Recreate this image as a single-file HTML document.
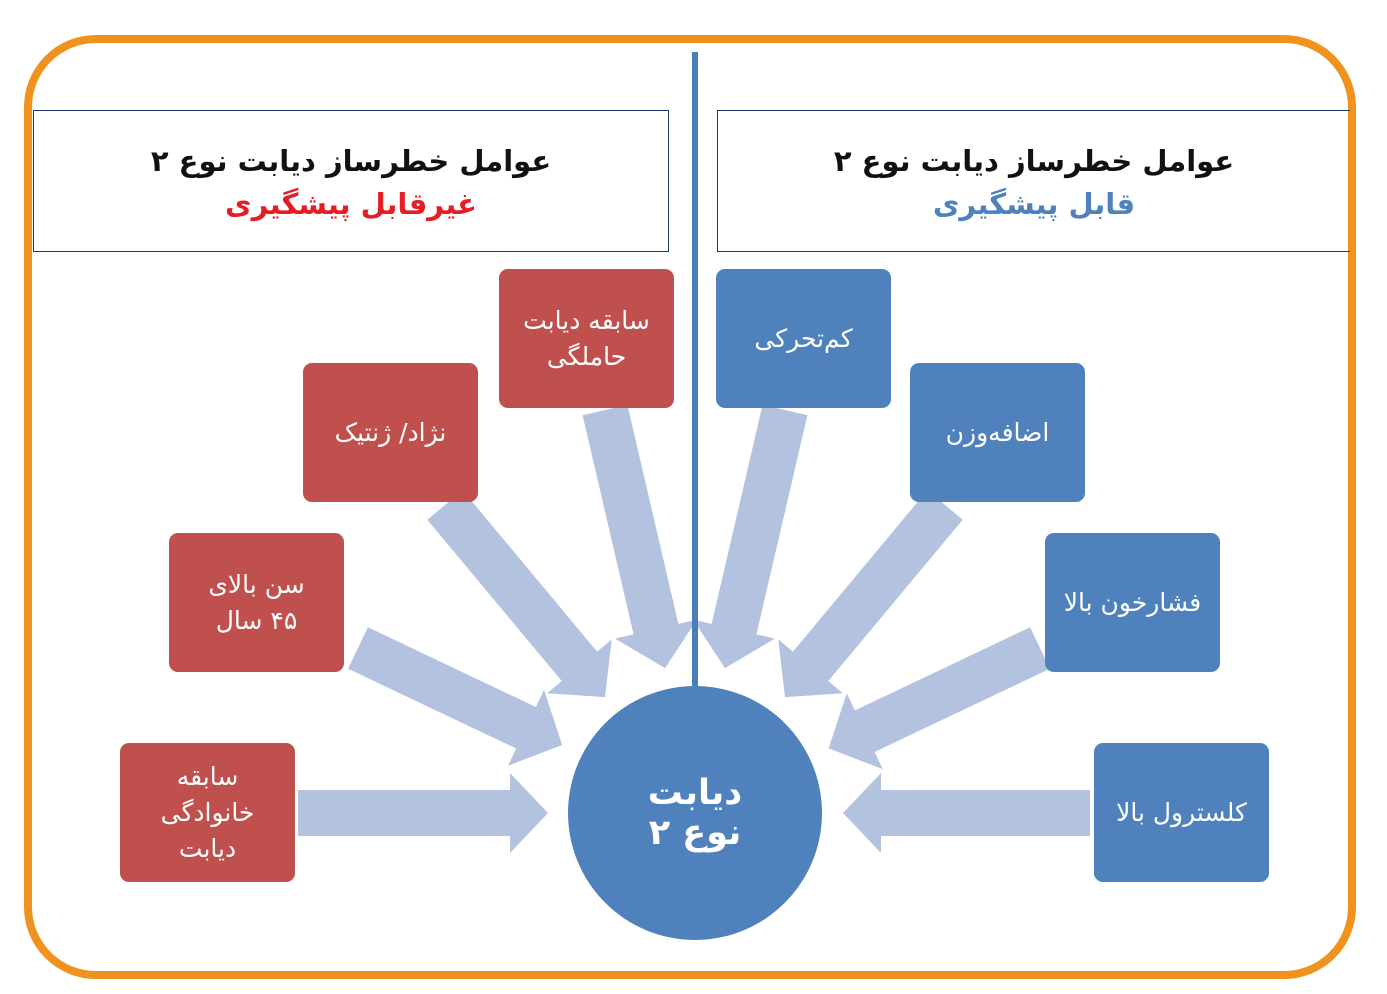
<!DOCTYPE html>
<html><head><meta charset="utf-8">
<style>
html,body{margin:0;padding:0;background:#fff;}
body{width:1387px;height:994px;position:relative;overflow:hidden;font-family:"DejaVu Sans",sans-serif;}
.frame{position:absolute;left:24px;top:35px;width:1316px;height:928px;border:8px solid #F0921E;border-radius:72px;box-sizing:content-box;}
.hdr{position:absolute;top:110px;height:142px;border:1.5px solid #1F3864;box-sizing:border-box;text-align:center;direction:rtl;font-weight:bold;}
.hdr .t1{font-size:29px;color:#111;margin-top:30px;line-height:40px;}
.hdr .t2{font-size:29px;line-height:46px;}
.box{position:absolute;width:175px;height:139px;border-radius:9px;color:#fff;display:flex;align-items:center;justify-content:center;text-align:center;direction:rtl;font-size:25px;line-height:36px;}
.r{background:#C0504D;}
.b{background:#4F81BD;}
.circle{position:absolute;left:568px;top:686px;width:254px;height:254px;border-radius:50%;background:#4F81BD;color:#fff;display:flex;align-items:center;justify-content:center;text-align:center;direction:rtl;font-weight:bold;font-size:35px;line-height:40px;}
svg{position:absolute;left:0;top:0;}
</style></head><body>
<div class="frame"></div>
<div class="hdr" style="left:33px;width:636px;"><div class="t1">عوامل خطرساز دیابت نوع ۲</div><div class="t2" style="color:#E31E24;">غیرقابل پیشگیری</div></div>
<div class="hdr" style="left:717px;width:633px;border-right:none;"><div class="t1">عوامل خطرساز دیابت نوع ۲</div><div class="t2" style="color:#4F81BD;">قابل پیشگیری</div></div>
<svg width="1387" height="994">
<g fill="#B3C2DE">
<polygon transform="translate(605,410) rotate(76.9)" points="0,-23 225,-23 225,-42 265,0 225,42 225,23 0,23"/>
<polygon transform="translate(445,505) rotate(50.2)" points="0,-23 210,-23 210,-42 250,0 210,42 210,23 0,23"/>
<polygon transform="translate(358,648) rotate(25.4)" points="0,-23 186,-23 186,-42 226,0 186,42 186,23 0,23"/>
<polygon transform="translate(298,813)" points="0,-23 212,-23 212,-40 250,0 212,40 212,23 0,23"/>
<polygon transform="translate(785,410) rotate(103.1)" points="0,-23 225,-23 225,-42 265,0 225,42 225,23 0,23"/>
<polygon transform="translate(945,505) rotate(129.8)" points="0,-23 210,-23 210,-42 250,0 210,42 210,23 0,23"/>
<polygon transform="translate(1040,648) rotate(154.6)" points="0,-23 194,-23 194,-42 234,0 194,42 194,23 0,23"/>
<polygon transform="translate(1090,813) rotate(180)" points="0,-23 209,-23 209,-40 247,0 209,40 209,23 0,23"/>
</g>
<rect x="692" y="52" width="6" height="640" fill="#4A7EBB"/>
</svg>
<div class="box r" style="left:499px;top:269px;">سابقه دیابت<br>حاملگی</div>
<div class="box r" style="left:303px;top:363px;">نژاد/ ژنتیک</div>
<div class="box r" style="left:169px;top:533px;">سن بالای<br>۴۵ سال</div>
<div class="box r" style="left:120px;top:743px;">سابقه<br>خانوادگی<br>دیابت</div>
<div class="box b" style="left:716px;top:269px;">کم‌تحرکی</div>
<div class="box b" style="left:910px;top:363px;">اضافه‌وزن</div>
<div class="box b" style="left:1045px;top:533px;">فشارخون بالا</div>
<div class="box b" style="left:1094px;top:743px;">کلسترول بالا</div>
<div class="circle">دیابت<br>نوع ۲</div>
</body></html>
